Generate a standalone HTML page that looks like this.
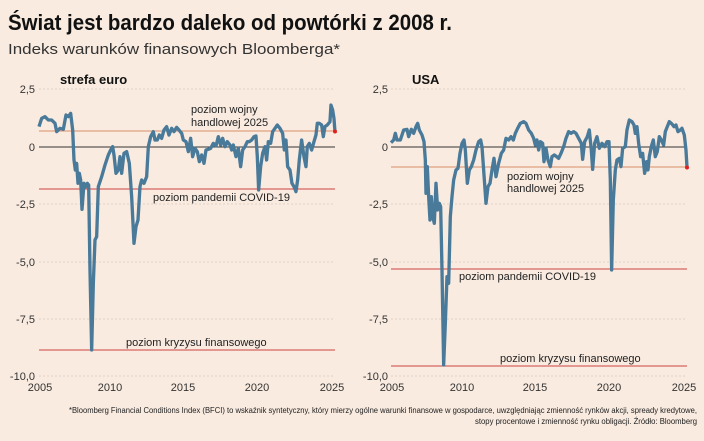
<!DOCTYPE html><html><head><meta charset="utf-8"><style>
body{margin:0;background:#f9ebe0;}
svg{display:block;font-family:"Liberation Sans",sans-serif;}
</style></head><body>
<svg width="704" height="441" viewBox="0 0 704 441">
<rect width="704" height="441" fill="#f9ebe0"/>
<text x="8" y="30" font-size="22" font-weight="bold" fill="#111" textLength="444" lengthAdjust="spacingAndGlyphs">Świat jest bardzo daleko od powtórki z 2008 r.</text>
<text x="8" y="54" font-size="15" fill="#333" textLength="332" lengthAdjust="spacingAndGlyphs">Indeks warunków finansowych Bloomberga*</text>
<g id="L">
<text x="60" y="84" font-size="13" font-weight="bold" fill="#111">strefa euro</text>
<g stroke="#d8c8bc" stroke-dasharray="2,2" stroke-width="0.8">
<line x1="39" x2="335" y1="89" y2="89"/><line x1="39" x2="335" y1="204" y2="204"/><line x1="39" x2="335" y1="262" y2="262"/><line x1="39" x2="335" y1="319" y2="319"/><line x1="39" x2="335" y1="376" y2="376"/></g>
<g font-size="11" fill="#333" text-anchor="end"><text x="35" y="93">2,5</text><text x="35" y="151">0</text><text x="35" y="208">-2,5</text><text x="35" y="266">-5,0</text><text x="35" y="323">-7,5</text><text x="35" y="380">-10,0</text></g>
<g font-size="11" fill="#333" text-anchor="middle"><text x="40" y="391">2005</text><text x="110" y="391">2010</text><text x="183" y="391">2015</text><text x="257" y="391">2020</text><text x="332" y="391">2025</text></g>
<line x1="39" x2="335" y1="147" y2="147" stroke="#333" stroke-width="1"/>
<line x1="39" x2="335" y1="131" y2="131" stroke="#e0a080" stroke-width="1.2"/>
<line x1="39" x2="335" y1="189" y2="189" stroke="#d04040" stroke-width="1"/>
<line x1="39" x2="335" y1="350" y2="350" stroke="#d04040" stroke-width="1"/>
<g font-size="11" fill="#222"><text x="191" y="113">poziom wojny</text><text x="191" y="126">handlowej 2025</text><text x="153" y="201">poziom pandemii COVID-19</text><text x="126" y="346">poziom kryzysu finansowego</text></g>
<polyline transform="translate(0,70) scale(0.3333)" fill="none" stroke="#4a7a9a" stroke-width="10" stroke-linejoin="round" points="117,170 125,145 135,140 145,150 155,150 165,160 170,185 180,175 190,178 198,135 205,140 212,130 218,180 222,270 226,300 230,280 234,340 238,310 242,330 246,418 252,340 258,350 262,340 266,345 270,600 275,840 280,640 285,510 290,500 295,350 305,320 315,285 325,255 332,240 338,230 342,255 348,310 355,300 360,260 365,310 372,250 380,245 388,280 395,380 402,520 408,470 414,450 420,350 425,330 432,340 440,320 445,230 452,200 460,185 465,210 472,210 478,195 485,205 492,180 500,170 507,195 515,175 522,185 530,172 537,180 545,190 550,210 558,215 565,245 572,205 578,260 585,235 592,245 598,275 605,255 612,280 618,240 625,238 632,235 640,220 648,228 655,200 662,225 668,205 675,230 682,215 690,225 695,240 700,225 708,260 715,235 722,290 728,240 735,230 742,215 748,215 755,210 762,200 768,198 772,260 776,360 782,290 788,250 795,230 800,270 805,215 812,220 818,185 825,175 832,165 840,175 848,190 853,240 858,210 863,290 870,300 876,340 882,350 888,365 893,330 898,270 905,210 912,260 918,290 922,230 928,220 935,240 942,215 948,195 952,160 958,160 965,165 970,200 975,170 982,165 990,155 993,105 998,120 1002,145 1005,185"/>
<circle cx="335" cy="131.5" r="2" fill="#e02020"/>
</g>
<g>
<text x="412" y="84" font-size="13" font-weight="bold" fill="#111">USA</text>
<g stroke="#d8c8bc" stroke-dasharray="2,2" stroke-width="0.8">
<line x1="391" x2="687" y1="89" y2="89"/><line x1="391" x2="687" y1="204" y2="204"/><line x1="391" x2="687" y1="262" y2="262"/><line x1="391" x2="687" y1="319" y2="319"/><line x1="391" x2="687" y1="376" y2="376"/></g>
<g font-size="11" fill="#333" text-anchor="end"><text x="388" y="93">2,5</text><text x="388" y="151">0</text><text x="388" y="208">-2,5</text><text x="388" y="266">-5,0</text><text x="388" y="323">-7,5</text><text x="388" y="380">-10,0</text></g>
<g font-size="11" fill="#333" text-anchor="middle"><text x="392" y="391">2005</text><text x="462" y="391">2010</text><text x="535" y="391">2015</text><text x="609" y="391">2020</text><text x="684" y="391">2025</text></g>
<line x1="391" x2="687" y1="147" y2="147" stroke="#333" stroke-width="1"/>
<line x1="391" x2="687" y1="167" y2="167" stroke="#e0a080" stroke-width="1.2"/>
<line x1="391" x2="687" y1="269" y2="269" stroke="#d04040" stroke-width="1"/>
<line x1="391" x2="687" y1="366" y2="366" stroke="#d04040" stroke-width="1"/>
<g font-size="11" fill="#222"><text x="507" y="180">poziom wojny</text><text x="507" y="192">handlowej 2025</text><text x="459" y="280">poziom pandemii COVID-19</text><text x="500" y="362">poziom kryzysu finansowego</text></g>
<polyline transform="translate(352,70) scale(0.3333)" fill="none" stroke="#4a7a9a" stroke-width="10" stroke-linejoin="round" points="117,218 125,210 130,190 135,210 145,210 150,195 155,180 165,178 170,200 178,178 185,190 192,170 197,160 202,180 210,195 216,215 220,270 222,370 226,290 230,380 234,450 238,380 242,440 247,460 252,340 257,420 262,400 266,410 270,600 275,885 280,760 285,620 290,640 295,440 300,380 305,330 312,300 318,295 324,250 330,220 336,210 340,240 346,340 352,300 358,290 365,270 372,240 380,215 386,210 390,230 395,300 402,400 408,350 414,340 420,300 426,265 432,320 440,280 448,250 455,240 462,205 470,210 477,200 484,210 490,190 497,175 505,160 515,155 522,160 530,180 538,190 545,205 550,225 555,210 560,240 565,215 572,220 576,275 582,235 588,270 595,290 600,260 607,255 614,260 620,265 627,250 635,230 642,205 650,185 657,190 665,185 672,190 680,205 688,220 692,268 698,215 706,200 712,180 718,240 722,298 728,220 735,200 742,235 750,220 758,230 765,215 771,215 775,330 779,600 784,390 790,300 795,270 802,265 807,290 812,235 820,230 825,180 832,150 840,155 846,165 850,190 855,170 860,220 866,260 872,250 878,310 884,275 888,300 892,260 898,230 904,210 910,260 916,245 922,200 928,210 935,225 940,185 946,170 952,155 960,162 966,170 972,165 978,185 985,180 990,175 997,195 1002,240 1005,290"/>
<circle cx="687" cy="167.5" r="2" fill="#e02020"/>
</g>
<g font-size="8" fill="#222" text-anchor="end"><text x="697" y="413" textLength="628" lengthAdjust="spacingAndGlyphs">*Bloomberg Financial Conditions Index (BFCI) to wskaźnik syntetyczny, który mierzy ogólne warunki finansowe w gospodarce, uwzględniając zmienność rynków akcji, spready kredytowe,</text><text x="697" y="424" textLength="222" lengthAdjust="spacingAndGlyphs">stopy procentowe i zmienność rynku obligacji. Źródło: Bloomberg</text></g>
</svg>
</body></html>
